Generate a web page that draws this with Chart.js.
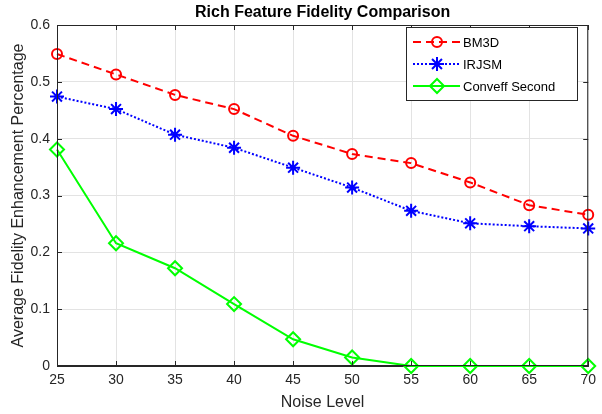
<!DOCTYPE html>
<html>
<head>
<meta charset="utf-8">
<script src="https://cdn.jsdelivr.net/npm/chart.js@4.4.1/dist/chart.umd.min.js"></script>
<style>
  html, body { margin: 0; padding: 0; background: #ffffff; }
  #wrap { width: 602px; height: 414px; position: relative; }
</style>
</head>
<body>
<div id="wrap"><canvas id="chart" width="602" height="414"></canvas></div>
<script>
// Noise levels along the x axis
const noiseLevels = [25, 30, 35, 40, 45, 50, 55, 60, 65, 70];
// Average fidelity enhancement per method
const bm3d = [0.549, 0.513, 0.477, 0.452, 0.405, 0.373, 0.357, 0.323, 0.283, 0.266];
const irjsm = [0.474, 0.452, 0.407, 0.384, 0.349, 0.314, 0.273, 0.251, 0.246, 0.242];
const conveffSecond = [0.381, 0.216, 0.172, 0.109, 0.047, 0.015, 0, 0, 0, 0];
const seriesNames = ['BM3D', 'IRJSM', 'Conveff Second'];
const yTickValues = [0, 0.1, 0.2, 0.3, 0.4, 0.5, 0.6];

const FONT = '"Liberation Sans", Arial, Helvetica, sans-serif';
const AXIS_COLOR = '#262626';

const toPoints = vals => vals.map((v, i) => ({ x: noiseLevels[i], y: v }));

// Title, inward ticks, box outline and the in-axes legend
const framePlugin = {
  id: 'frame',
  afterDraw(chart) {
    const { ctx, chartArea: a, scales } = chart;
    ctx.save();
    // title
    ctx.fillStyle = '#000000';
    ctx.font = 'bold 16px ' + FONT;
    ctx.textAlign = 'center';
    ctx.textBaseline = 'middle';
    ctx.fillText('Rich Feature Fidelity Comparison', (a.left + a.right) / 2, 13);

    // box
    ctx.strokeStyle = AXIS_COLOR;
    ctx.lineWidth = 1;
    ctx.strokeRect(a.left + 0.5, a.top + 0.5, a.right - a.left - 1, a.bottom - a.top - 1);

    // inward ticks
    const tl = 5;
    ctx.beginPath();
    noiseLevels.forEach(v => {
      const x = Math.round(scales.x.getPixelForValue(v)) + 0.5;
      ctx.moveTo(x, a.bottom); ctx.lineTo(x, a.bottom - tl);
      ctx.moveTo(x, a.top); ctx.lineTo(x, a.top + tl);
    });
    yTickValues.forEach(v => {
      const y = Math.round(scales.y.getPixelForValue(v)) + 0.5;
      ctx.moveTo(a.left, y); ctx.lineTo(a.left + tl, y);
      ctx.moveTo(a.right, y); ctx.lineTo(a.right - tl, y);
    });
    ctx.stroke();

    // legend
    const lx = 406, ly = 27, lw = 171, lh = 73;
    ctx.fillStyle = '#ffffff';
    ctx.fillRect(lx, ly, lw, lh);
    ctx.strokeStyle = AXIS_COLOR;
    ctx.strokeRect(lx + 0.5, ly + 0.5, lw, lh);
    chart.data.datasets.forEach((ds, i) => {
      const y = 42 + i * 22;
      ctx.save();
      ctx.strokeStyle = ds.borderColor;
      ctx.lineWidth = ds.borderWidth;
      ctx.setLineDash(ds.borderDash || []);
      ctx.beginPath();
      ctx.moveTo(413, y); ctx.lineTo(460, y);
      ctx.stroke();
      ctx.setLineDash([]);
      ctx.fillStyle = 'rgba(0,0,0,0)';
      ctx.strokeStyle = ds.pointBorderColor;
      ctx.lineWidth = ds.pointBorderWidth;
      Chart.helpers.drawPoint(ctx, {
        pointStyle: ds.pointStyle, radius: ds.pointRadius, borderWidth: ds.pointBorderWidth, rotation: 0
      }, 437, y);
      ctx.restore();
      ctx.fillStyle = '#000000';
      ctx.font = '13px ' + FONT;
      ctx.textAlign = 'left';
      ctx.textBaseline = 'middle';
      ctx.fillText(ds.label, 463, y + 1);
    });
    ctx.restore();
  }
};

new Chart(document.getElementById('chart'), {
  type: 'line',
  data: {
    datasets: [
      {
        label: seriesNames[0], data: toPoints(bm3d),
        borderColor: '#ff0000', backgroundColor: 'rgba(0,0,0,0)',
        borderWidth: 2, borderDash: [8, 5],
        pointStyle: 'circle', pointRadius: 5, pointBorderWidth: 2,
        pointBorderColor: '#ff0000', pointBackgroundColor: 'rgba(0,0,0,0)',
        clip: false
      },
      {
        label: seriesNames[1], data: toPoints(irjsm),
        borderColor: '#0000ff', backgroundColor: 'rgba(0,0,0,0)',
        borderWidth: 2, borderDash: [2, 2],
        pointStyle: 'star', pointRadius: 7, pointBorderWidth: 2,
        pointBorderColor: '#0000ff', pointBackgroundColor: 'rgba(0,0,0,0)',
        clip: false
      },
      {
        label: seriesNames[2], data: toPoints(conveffSecond),
        borderColor: '#00ff00', backgroundColor: 'rgba(0,0,0,0)',
        borderWidth: 2,
        pointStyle: 'rectRot', pointRadius: 7, pointBorderWidth: 2,
        pointBorderColor: '#00ff00', pointBackgroundColor: 'rgba(0,0,0,0)',
        clip: false
      }
    ]
  },
  options: {
    responsive: false,
    animation: false,
    layout: { padding: { left: 0, right: 7, top: 25, bottom: 0 } },
    plugins: {
      legend: { display: false },
      title: { display: false },
      tooltip: { enabled: false }
    },
    scales: {
      x: {
        type: 'linear', min: 25, max: 70,
        afterBuildTicks: s => { s.ticks = noiseLevels.map(v => ({ value: v })); },
        afterFit: s => { s.height = 48; },
        grid: { color: '#e3e3e3', drawTicks: false },
        border: { color: AXIS_COLOR },
        ticks: { color: AXIS_COLOR, font: { family: FONT, size: 14 }, padding: 6, maxRotation: 0 },
        title: { display: true, text: 'Noise Level', color: AXIS_COLOR, font: { family: FONT, size: 16 }, padding: { top: 2, bottom: 2 } }
      },
      y: {
        min: 0, max: 0.6,
        afterBuildTicks: s => { s.ticks = yTickValues.map(v => ({ value: v })); },
        afterFit: s => { s.width = 57; },
        grid: { color: '#e3e3e3', drawTicks: false },
        border: { color: AXIS_COLOR },
        ticks: { color: AXIS_COLOR, font: { family: FONT, size: 14 }, padding: 7, callback: v => String(Math.round(v * 10) / 10) },
        title: { display: true, text: 'Average Fidelity Enhancement Percentage', color: AXIS_COLOR, font: { family: FONT, size: 16 }, padding: { top: 9, bottom: 0 } }
      }
    }
  },
  plugins: [framePlugin]
});
</script>
</body>
</html>
